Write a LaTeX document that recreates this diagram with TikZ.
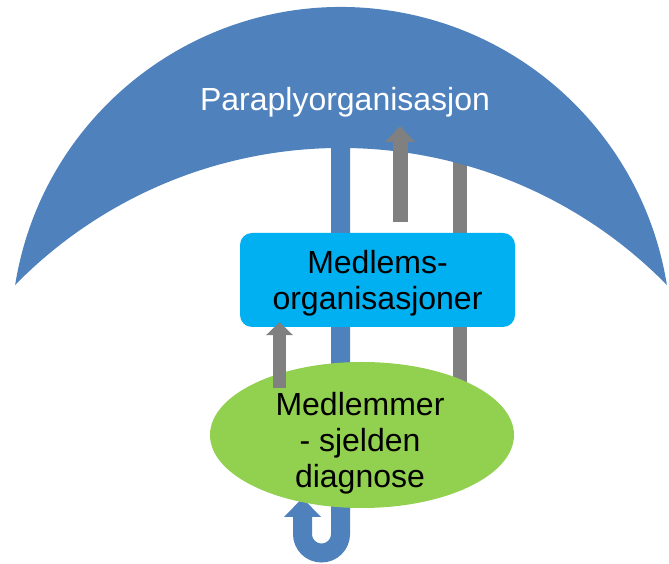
\documentclass[tikz,border=0pt]{standalone}
\usepackage{fontspec}
\setmainfont{Liberation Sans}
\usetikzlibrary{arrows.meta,positioning,shapes.geometric}
\definecolor{umbrellablue}{HTML}{4F81BD}
\definecolor{orgcyan}{HTML}{00B0F0}
\definecolor{membergreen}{HTML}{92D050}
\definecolor{flowgray}{HTML}{808080}

\begin{document}
\begin{tikzpicture}[
	x=1pt, y=1pt,
	every node/.style={font=\fontsize{32}{36}\selectfont, align=center, inner sep=0pt},
	umbrella/.style={fill=umbrellablue},
	org/.style={rectangle, rounded corners=12pt, fill=orgcyan, minimum width=275pt, minimum height=94pt},
	members/.style={ellipse, fill=membergreen, minimum width=304pt, minimum height=146pt},
	handle/.style={draw=umbrellablue, line width=19pt},
	bigflow/.style={draw=flowgray, line width=15pt, -{Triangle[width=30pt, length=16pt, line width=0pt]}},
	smallflow/.style={draw=flowgray, line width=13pt, -{Triangle[width=27pt, length=13pt, line width=0pt]}},
	link/.style={draw=flowgray, line width=14pt}
	]
	\useasboundingbox (0,0) rectangle (669,564);
	% anchor points
	\coordinate (handletop) at (340.5,430);
	\coordinate (hookend) at (302.5,66);
	\coordinate (linktop) at (460,420);
	\coordinate (linkbot) at (460,160);
	% lines behind the shapes
	\draw[handle, -{Triangle[width=37pt, length=19pt, line width=0pt]}]
		(handletop) -- (340.5,30) arc[start angle=0, end angle=-180, radius=19] -- (hookend);
	\draw[link] (linktop) -- (linkbot);
	% umbrella
	\fill[umbrella] ([shift={(341,227)}]170.94:330)
		arc[start angle=170.94, end angle=9.06, radius=330]
		arc[start angle=44.38, end angle=135.62, radius=456] -- cycle;
	\node[text=white] (paraply) at (345,462) {Paraplyorganisasjon};
	\node[org] (medorg) at (377.5,284) {};
	\node (medorgtext) at ([yshift=-3pt]medorg.center) {Medlems-\\organisasjoner};
	\node[members] (medlemmer) at (362,129) {};
	\node (medlemmertext) at ([xshift=-2pt, yshift=-8pt]medlemmer.center) {Medlemmer\\- sjelden\\diagnose};
	% flows
	\coordinate (upstart) at ([xshift=22.5pt, yshift=11pt]medorg.north);
	\coordinate (uptip) at (400,438);
	\draw[bigflow] (upstart) -- (uptip);
	\coordinate (memstart) at (279.5,176);
	\coordinate (memtip) at ([xshift=-98pt, yshift=5pt]medorg.south);
	\draw[smallflow] (memstart) -- (memtip);
\end{tikzpicture}
\end{document}
